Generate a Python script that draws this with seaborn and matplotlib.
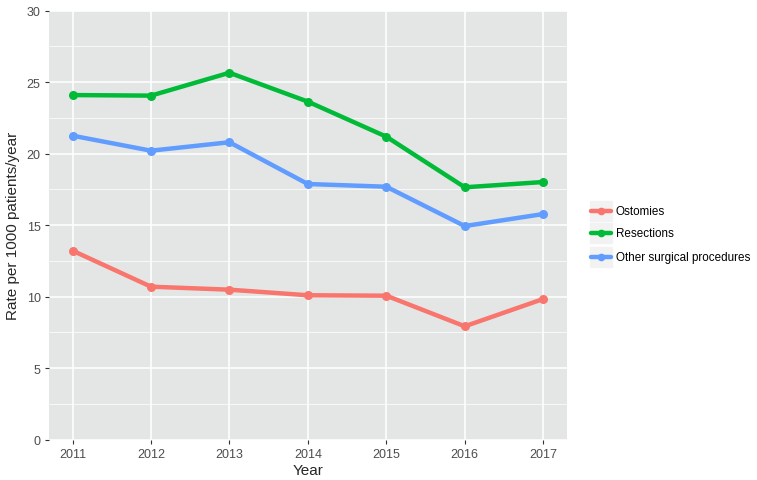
import numpy as np
import pandas as pd
import seaborn as sns
from matplotlib import pyplot as plt
from matplotlib.lines import Line2D
from matplotlib.patches import Rectangle

years = [2011, 2012, 2013, 2014, 2015, 2016, 2017]
ostomies = [13.22, 10.70, 10.49, 10.10, 10.07, 7.93, 9.84]
resections = [24.10, 24.06, 25.66, 23.64, 21.19, 17.65, 18.02]
other = [21.26, 20.21, 20.80, 17.88, 17.69, 14.94, 15.78]
groups = ['Ostomies', 'Resections', 'Other surgical procedures']
colors = ['#F8766D', '#00BA38', '#619CFF']

df = pd.DataFrame({'Year': years * 3,
                   'Rate': ostomies + resections + other,
                   'Group': np.repeat(groups, len(years))})

sns.set_style('darkgrid', {'axes.facecolor': '#E4E6E6', 'grid.color': 'white'})
plt.rcParams['font.family'] = ['Liberation Sans', 'DejaVu Sans']

fig = plt.figure(figsize=(7.57, 4.81), dpi=100)
ax = fig.add_axes([0.0647, 0.0838, 0.684, 0.8919])
sns.lineplot(data=df, x='Year', y='Rate', hue='Group', palette=colors,
             marker='o', markersize=6.5, markeredgewidth=0, linewidth=3.2,
             ax=ax, legend=False)

ax.set_xlim(2010.7, 2017.3)
ax.set_ylim(0, 30)
ax.set_xticks(years)
ax.set_yticks(range(0, 31, 5))
ax.set_yticks(np.arange(2.5, 30, 5), minor=True)
ax.grid(which='major', color='white', linewidth=1.1)
ax.grid(which='minor', axis='y', color='white', linewidth=0.5)
ax.tick_params(axis='both', which='major', labelsize=9, labelcolor='#4D4D4D',
               length=3, width=0.8, color='#333333', pad=3, bottom=True, left=True)
ax.tick_params(axis='both', which='minor', length=0)
for s in ax.spines.values():
    s.set_visible(False)
ax.set_xlabel('Year', fontsize=11, labelpad=2)
ax.set_ylabel('Rate per 1000 patients/year', fontsize=11, labelpad=5)

# legend (ggplot style keys)
rows_y = [0.559, 0.513, 0.464]
for g, c, yy in zip(groups, colors, rows_y):
    fig.patches.append(Rectangle((0.7795, yy - 0.021), 0.0285, 0.042,
                                 transform=fig.transFigure, color='#F2F2F2', zorder=0))
    fig.add_artist(Line2D([0.7805, 0.8070], [yy, yy], transform=fig.transFigure,
                          color=c, linewidth=3.2))
    fig.add_artist(Line2D([0.7937], [yy], transform=fig.transFigure,
                          color=c, marker='o', markersize=5.5, markeredgewidth=0))
    fig.text(0.8135, yy, g, fontsize=8.4, va='center', ha='left', color='black')

fig.savefig('out.png', dpi=100)
